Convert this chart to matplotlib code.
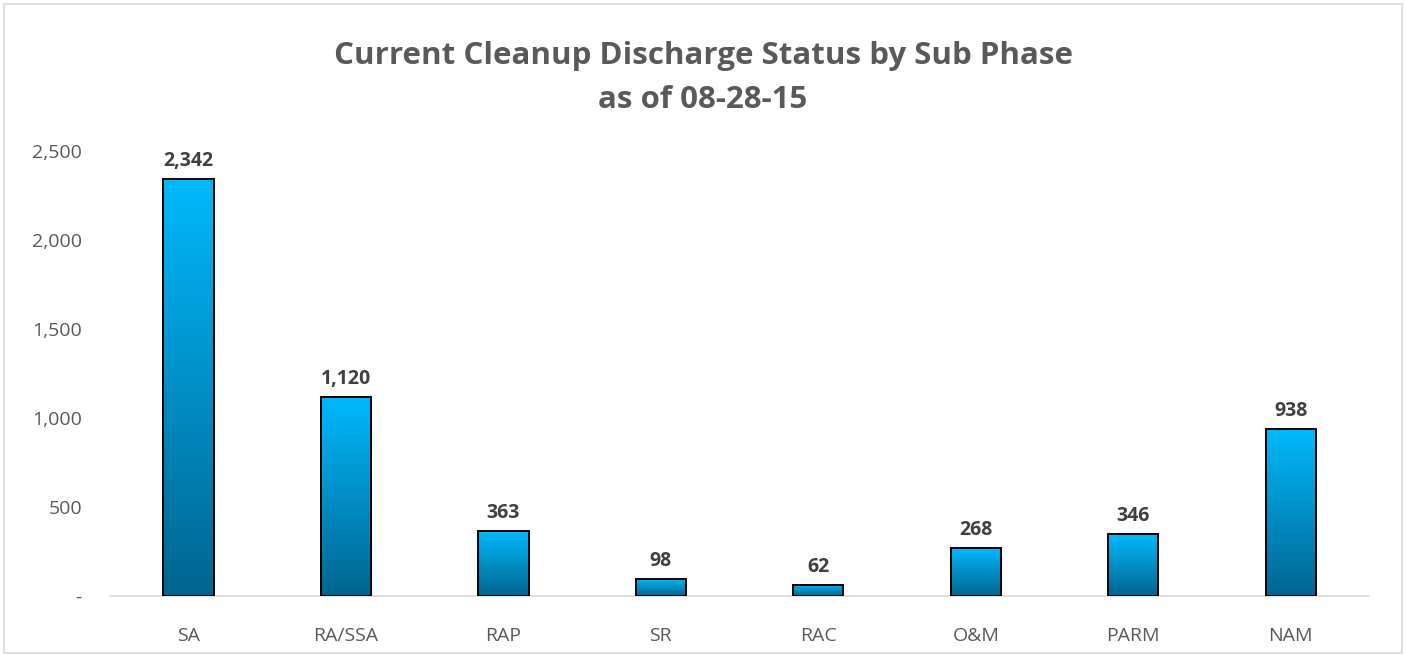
import numpy as np
import matplotlib

matplotlib.use("Agg")
import matplotlib.pyplot as plt
from matplotlib.colors import LinearSegmentedColormap
from matplotlib.patches import Rectangle
from matplotlib.ticker import FuncFormatter

# ---------------------------------------------------------------------------
# Data
# ---------------------------------------------------------------------------
phases = ["SA", "RA/SSA", "RAP", "SR", "RAC", "O&M", "PARM", "NAM"]
counts = [2342, 1120, 363, 98, 62, 268, 346, 938]
y_ticks = [0, 500, 1000, 1500, 2000, 2500]

plt.rcParams["font.family"] = ["Open Sans", "DejaVu Sans"]

TEXT_GREY = "#595959"
LABEL_DARK = "#404040"
grad = LinearSegmentedColormap.from_list("bar", ["#006590", "#00b9fc"])


def fmt(v, _pos=None):
    return "-" if v == 0 else f"{v:,.0f}"


fig = plt.figure(figsize=(14.06, 6.55), dpi=100)
ax = fig.add_axes([0.078, 0.090, 0.896, 0.679])

x = np.arange(len(phases))
bars = ax.bar(x, counts, width=0.32, facecolor="none", edgecolor="black",
              linewidth=1.4, zorder=3)

# vertical gradient inside each bar
gradient = np.linspace(0, 1, 256).reshape(-1, 1)
for b in bars:
    x0, w, h = b.get_x(), b.get_width(), b.get_height()
    im = ax.imshow(gradient, cmap=grad, origin="lower", aspect="auto",
                   extent=(x0, x0 + w, 0, h), zorder=2)
    clip = Rectangle((x0, 0), w, h, transform=ax.transData)
    im.set_clip_path(clip)
    ax.text(x0 + w / 2, h + 45, fmt(h), ha="center", va="bottom",
            fontsize=14, fontweight="bold", color=LABEL_DARK)

ax.set_xlim(-0.5, len(phases) - 0.5)
ax.set_ylim(0, 2500)
ax.set_xticks(x)
ax.set_xticklabels(phases)
ax.set_yticks(y_ticks)
ax.yaxis.set_major_formatter(FuncFormatter(fmt))
ax.tick_params(axis="both", length=0, labelsize=14, labelcolor=TEXT_GREY)
ax.tick_params(axis="y", pad=20)
ax.tick_params(axis="x", pad=22)

for s in ("top", "right", "left"):
    ax.spines[s].set_visible(False)
ax.spines["bottom"].set_color("#d9d9d9")
ax.spines["bottom"].set_linewidth(1.2)

fig.text(0.5, 0.915, "Current Cleanup Discharge Status by Sub Phase",
         ha="center", va="center", fontsize=22.5, fontweight="bold",
         color=TEXT_GREY)
fig.text(0.5, 0.847, "as of 08-28-15", ha="center", va="center",
         fontsize=22.5, fontweight="bold", color=TEXT_GREY)

# thin chart-area border
fig.patches.append(Rectangle((0.003, 0.003), 0.994, 0.991,
                             transform=fig.transFigure, fill=False,
                             edgecolor="#d9d9d9", linewidth=1.2))

fig.savefig("out.png", dpi=100)
